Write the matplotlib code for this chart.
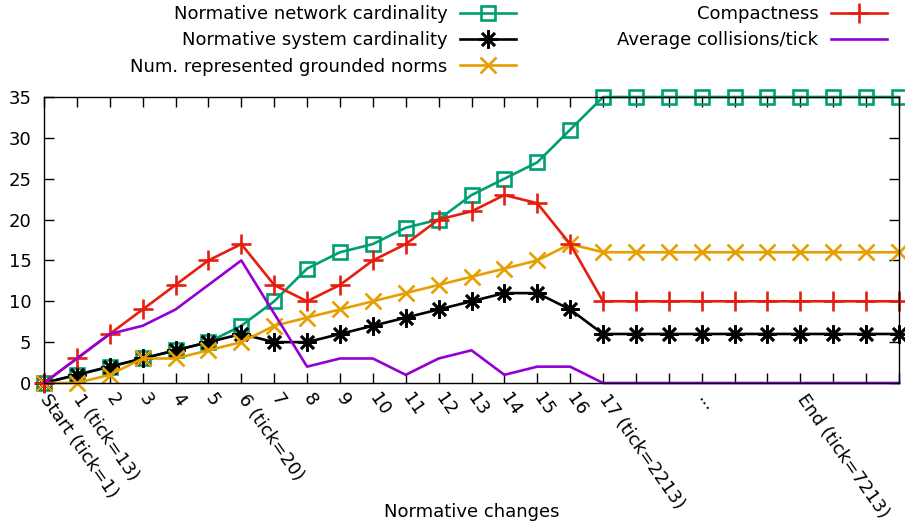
import matplotlib
matplotlib.use('Agg')
import matplotlib.pyplot as plt
import numpy as np

plt.rcParams['font.family'] = ['DejaVu Sans']
plt.rcParams['font.size'] = 13

# normative changes (x positions), 17 changes + the long tail up to the end
steps = np.arange(27)
tick_labels = ['Start (tick=1)', '1 (tick=13)', '2', '3', '4', '5', '6 (tick=20)',
               '7', '8', '9', '10', '11', '12', '13', '14', '15', '16',
               '17 (tick=2213)', '', '', '...', '', '', 'End (tick=7213)', '', '', '']

network_card = [0, 1, 2, 3, 4, 5, 7, 10, 14, 16, 17, 19, 20, 23, 25, 27, 31,
                35, 35, 35, 35, 35, 35, 35, 35, 35, 35]
system_card = [0, 1, 2, 3, 4, 5, 6, 5, 5, 6, 7, 8, 9, 10, 11, 11, 9,
               6, 6, 6, 6, 6, 6, 6, 6, 6, 6]
grounded_norms = [0, 0, 1, 3, 3, 4, 5, 7, 8, 9, 10, 11, 12, 13, 14, 15, 17,
                  16, 16, 16, 16, 16, 16, 16, 16, 16, 16]
compactness = [0, 3, 6, 9, 12, 15, 17, 12, 10, 12, 15, 17, 20, 21, 23, 22, 17,
               10, 10, 10, 10, 10, 10, 10, 10, 10, 10]
collisions = [0, 3, 6, 7, 9, 12, 15, 8.5, 2, 3, 3, 1, 3, 4, 1, 2, 2,
              0, 0, 0, 0, 0, 0, 0, 0, 0, 0]

fig = plt.figure(figsize=(9.05, 5.31), dpi=100)
ax = fig.add_axes([44 / 905, 1 - 383 / 531, 855 / 905, 286 / 531])

lw = 1.9
mew = 1.9
ax.plot(steps, network_card, color='#009e73', lw=lw, marker='s', ms=10.5,
        mfc='none', mew=mew, label='Normative network cardinality', clip_on=False)
ax.plot(steps, system_card, color='black', lw=lw, marker=(8, 2, 0), ms=13,
        mew=mew, label='Normative system cardinality', clip_on=False)
ax.plot(steps, grounded_norms, color='#e69f00', lw=lw, marker='x', ms=12,
        mew=mew, label='Num. represented grounded norms', clip_on=False)
ax.plot(steps, compactness, color='#e51e10', lw=lw, marker='+', ms=15,
        mew=mew, label='Compactness', clip_on=False)
ax.plot(steps, collisions, color='#9400d3', lw=lw,
        label='Average collisions/tick', clip_on=False)

ax.set_xlim(0, 26)
ax.set_ylim(0, 35)
ax.set_yticks(range(0, 36, 5))
ax.set_xticks(steps)
ax.set_xticklabels(tick_labels, rotation=-55, ha='left', va='center',
                   rotation_mode='anchor')
for spine in ax.spines.values():
    spine.set_linewidth(1.0)
ax.tick_params(axis='both', direction='in', length=7, width=1.0,
               top=True, right=True)
ax.tick_params(axis='y', pad=9)
ax.tick_params(axis='x', pad=9)

ax.set_xlabel('Normative changes')
ax.xaxis.set_label_coords(0.5, -0.451)
ax.xaxis.label.set_va('center')

leg = fig.legend(loc='upper right', bbox_to_anchor=(887 / 905, 1 - 5 / 531),
                 ncol=2, markerfirst=False, frameon=False, borderpad=0,
                 borderaxespad=0, handlelength=3.1, handletextpad=0.7,
                 columnspacing=5.6, labelspacing=0.46, numpoints=1)

fig.savefig('out.png', dpi=100)
